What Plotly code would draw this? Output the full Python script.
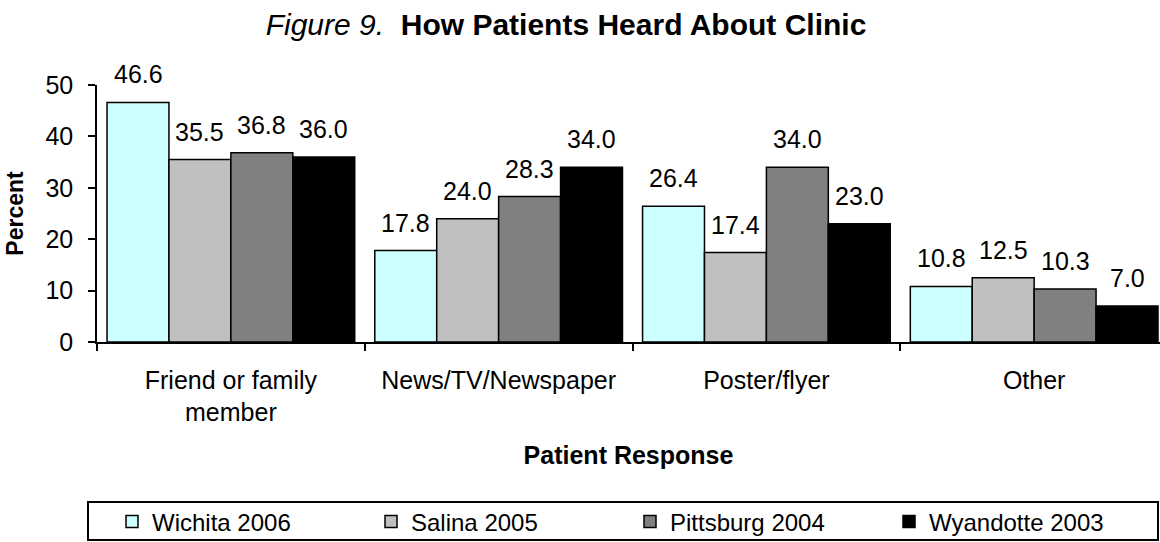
import plotly.graph_objects as go

# data
CATEGORIES = ["Friend or family<br>member", "News/TV/Newspaper", "Poster/flyer", "Other"]
SERIES = ["Wichita 2006", "Salina 2005", "Pittsburg 2004", "Wyandotte 2003"]
WICHITA = [46.6, 17.8, 26.4, 10.8]
SALINA = [35.5, 24.0, 17.4, 12.5]
PITTSBURG = [36.8, 28.3, 34.0, 10.3]
WYANDOTTE = [36.0, 34.0, 23.0, 7.0]

COLORS = ["#CCFFFF", "#C0C0C0", "#808080", "#000000"]
FONT = "Liberation Sans, Arial, sans-serif"

W, H = 1160, 542
L, R, T, B = 97, 0, 85, 200
BARGAP = 0.075
XRANGE = [-0.5, 3.47]

plot_w = W - L - R
plot_h = H - T - B
cat_px = plot_w / (XRANGE[1] - XRANGE[0])
bar_px = cat_px * (1 - BARGAP) / len(SERIES)

fig = go.Figure()
annotations = []
for i, (name, vals, col) in enumerate(zip(SERIES, [WICHITA, SALINA, PITTSBURG, WYANDOTTE], COLORS)):
    fig.add_trace(go.Bar(
        x=CATEGORIES, y=vals, name=name,
        marker=dict(color=col, line=dict(color="black", width=1.5)),
        hoverinfo="name+y",
    ))
    # value labels sit a little above each bar
    for cat, v in zip(CATEGORIES, vals):
        annotations.append(dict(
            x=cat, y=v, xref="x", yref="y", text=f"{v:.1f}", showarrow=False,
            xanchor="center", yanchor="bottom", yshift=12,
            xshift=(i - (len(SERIES) - 1) / 2) * bar_px,
            font=dict(size=25, color="black"),
        ))

# legend frame spans nearly the whole width
fig.add_shape(type="rect", xref="paper", yref="paper",
              x0=(88 - L) / plot_w, x1=(1158 - L) / plot_w,
              y0=(H - B - 502) / plot_h, y1=(H - B - 540) / plot_h,
              line=dict(color="black", width=2), fillcolor="rgba(0,0,0,0)")

fig.update_layout(
    width=W, height=H,
    paper_bgcolor="white", plot_bgcolor="white",
    font=dict(family=FONT, size=24, color="black"),
    margin=dict(l=L, r=R, t=T, b=B, autoexpand=False),
    barmode="group", bargap=BARGAP, bargroupgap=0,
    annotations=annotations,
    title=dict(text="<i>Figure 9.</i>  <b>How Patients Heard About Clinic</b>",
               x=566 / W, xanchor="center", y=1 - 24 / H, yanchor="middle",
               font=dict(size=30, color="black")),
    xaxis=dict(range=XRANGE, showline=True, linecolor="black", linewidth=1.5,
               ticks="outside", tickson="boundaries", ticklen=7, tickwidth=1.5,
               tickcolor="black", showgrid=False, automargin=False,
               ticklabelstandoff=15, tickfont=dict(size=25),
               title=dict(text="<b>Patient Response</b>", standoff=21,
                          font=dict(size=25))),
    yaxis=dict(range=[0, 50], dtick=10, showline=True, linecolor="black", linewidth=1.5,
               ticks="outside", ticklen=7, tickwidth=1.5, tickcolor="black",
               showgrid=False, zeroline=False, automargin=False,
               ticklabelstandoff=10, tickfont=dict(size=25),
               title=dict(text="<b>Percent</b>", standoff=15, font=dict(size=23))),
    legend=dict(orientation="h", xref="container", yref="container",
                x=112 / W, xanchor="left", y=1 - 522 / H, yanchor="middle",
                borderwidth=0, bgcolor="rgba(0,0,0,0)",
                entrywidth=214, font=dict(size=24), traceorder="normal",
                itemwidth=30),
)

# drop the browser's default page margin so the figure sits at the window corner
fig.write_html("out.html", config={"displayModeBar": False},
               post_script="document.body.style.margin='0';")
